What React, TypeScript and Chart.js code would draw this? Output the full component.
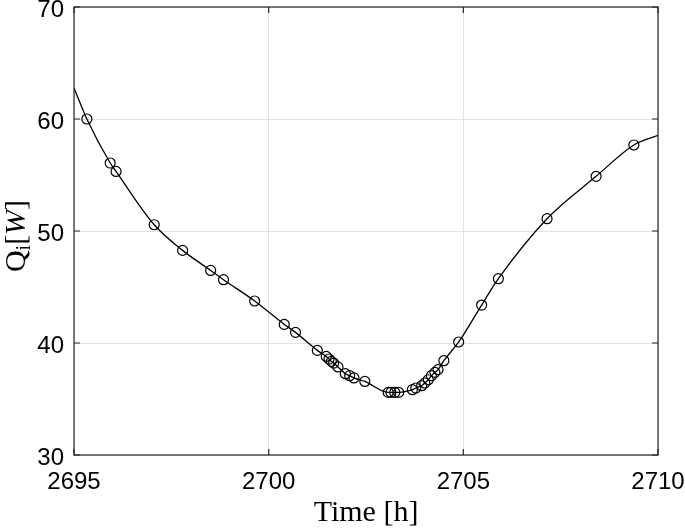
import { useEffect, useRef } from 'react';
import { Chart, registerables } from 'chart.js';

Chart.register(...registerables);

// Sampled points (circles)
const sampleTime = [
  2695.33, 2695.93, 2696.08, 2697.06, 2697.79, 2698.51, 2698.84, 2699.64,
  2700.40, 2700.69, 2701.25, 2701.48, 2701.55, 2701.61, 2701.67, 2701.78,
  2701.97, 2702.08, 2702.19, 2702.47, 2703.07, 2703.14, 2703.24, 2703.34,
  2703.69, 2703.78, 2703.93, 2704.01, 2704.10, 2704.18, 2704.27, 2704.35,
  2704.50, 2704.88, 2705.47, 2705.90, 2707.15, 2708.41, 2709.38,
];
const sampleQ = [
  60.0, 56.07, 55.32, 50.56, 48.27, 46.48, 45.65, 43.75,
  41.66, 40.95, 39.34, 38.8, 38.57, 38.36, 38.21, 37.86,
  37.26, 37.08, 36.88, 36.57, 35.59, 35.59, 35.59, 35.59,
  35.83, 35.98, 36.19, 36.43, 36.72, 37.08, 37.38, 37.62,
  38.42, 40.09, 43.39, 45.74, 51.1, 54.88, 57.68,
];
// Curve end values at the axis limits
const curveStart = { x: 2695, y: 62.77 };
const curveEnd = { x: 2710, y: 58.54 };

const xTicks = [2695, 2700, 2705, 2710];
const yTicks = [30, 40, 50, 60, 70];

const xTitle = 'Time [h]';
const yTitleParts = ['Q', 'i', '[', 'W', ']'];

const TICK_FONT = '"Liberation Sans", Arial, Helvetica, sans-serif';
const SERIF = '"Liberation Serif", "Times New Roman", serif';

const boxPlugin = {
  id: 'matlabBox',
  afterDraw(chart: any) {
    const { ctx, chartArea: a } = chart;
    const xs = chart.scales.x;
    const ys = chart.scales.y;
    ctx.save();
    ctx.strokeStyle = '#262626';
    ctx.lineWidth = 1.2;
    ctx.strokeRect(a.left, a.top, a.right - a.left, a.bottom - a.top);
    const tl = 6;
    ctx.beginPath();
    xTicks.forEach((v) => {
      const px = xs.getPixelForValue(v);
      ctx.moveTo(px, a.bottom);
      ctx.lineTo(px, a.bottom - tl);
      ctx.moveTo(px, a.top);
      ctx.lineTo(px, a.top + tl);
    });
    yTicks.forEach((v) => {
      const py = ys.getPixelForValue(v);
      ctx.moveTo(a.left, py);
      ctx.lineTo(a.left + tl, py);
      ctx.moveTo(a.right, py);
      ctx.lineTo(a.right - tl, py);
    });
    ctx.stroke();

    // y-axis title with subscript and italic W
    const cy = (a.top + a.bottom) / 2 + 5;
    const bx = 25;
    ctx.translate(bx, cy);
    ctx.rotate(-Math.PI / 2);
    const fonts = [
      `30px ${SERIF}`,
      `20px ${SERIF}`,
      `30px ${SERIF}`,
      `italic 30px ${SERIF}`,
      `30px ${SERIF}`,
    ];
    const dys = [0, 5, 0, 0, 0];
    const widths = yTitleParts.map((t, i) => {
      ctx.font = fonts[i];
      return ctx.measureText(t).width;
    });
    const total = widths.reduce((s, w) => s + w, 0);
    let x = -total / 2;
    ctx.fillStyle = '#000';
    ctx.textBaseline = 'alphabetic';
    ctx.textAlign = 'left';
    yTitleParts.forEach((t, i) => {
      ctx.font = fonts[i];
      ctx.fillText(t, x, dys[i]);
      x += widths[i];
    });
    ctx.restore();
  },
};

export default function App() {
  const ref = useRef<HTMLCanvasElement>(null);
  useEffect(() => {
    const samples = sampleTime.map((t, i) => ({ x: t, y: sampleQ[i] }));
    const curve = [curveStart, ...samples, curveEnd];
    const chart = new Chart(ref.current!, {
      type: 'scatter',
      data: {
        datasets: [
          {
            label: 'curve',
            data: curve,
            showLine: true,
            borderColor: '#000',
            borderWidth: 1.3,
            pointRadius: 0,
            cubicInterpolationMode: 'monotone',
          } as any,
          {
            label: 'samples',
            data: samples,
            showLine: false,
            pointRadius: 5,
            pointBorderWidth: 1.2,
            pointBorderColor: '#000',
            pointBackgroundColor: 'rgba(0,0,0,0)',
          },
        ],
      },
      options: {
        animation: false,
        responsive: false,
        maintainAspectRatio: false,
        layout: { padding: { top: 7, right: 27, left: 0, bottom: 0 } },
        plugins: { legend: { display: false }, tooltip: { enabled: false } },
        scales: {
          x: {
            type: 'linear',
            min: 2695,
            max: 2710,
            afterBuildTicks: (s: any) => {
              s.ticks = xTicks.map((v) => ({ value: v }));
            },
            afterFit: (s: any) => {
              s.height = 76;
              s.paddingLeft = 0;
              s.paddingRight = 0;
            },
            ticks: {
              color: '#000',
              font: { family: TICK_FONT, size: 24 },
              padding: 13,
              maxRotation: 0,
              autoSkip: false,
              callback: (v: any) => String(v),
            },
            grid: { color: '#e2e2e2', lineWidth: 1, drawTicks: false },
            border: { display: false },
            title: {
              display: true,
              text: xTitle,
              color: '#000',
              font: { family: SERIF, size: 30 },
              padding: { top: 0, bottom: 0 },
            },
          },
          y: {
            type: 'linear',
            min: 30,
            max: 70,
            afterBuildTicks: (s: any) => {
              s.ticks = yTicks.map((v) => ({ value: v }));
            },
            afterFit: (s: any) => {
              s.width = 74;
              s.paddingTop = 0;
              s.paddingBottom = 0;
            },
            ticks: {
              color: '#000',
              font: { family: TICK_FONT, size: 24 },
              padding: 10,
              labelOffset: 3,
              callback: (v: any) => String(v),
            },
            grid: { color: '#e2e2e2', lineWidth: 1, drawTicks: false },
            border: { display: false },
          },
        },
      },
      plugins: [boxPlugin],
    });
    return () => chart.destroy();
  }, []);
  return (
    <div style={{ position: 'absolute', left: 0, top: 0, width: 685, height: 531, background: '#fff' }}>
      <canvas ref={ref} width={685} height={531} style={{ display: 'block' }} />
    </div>
  );
}
